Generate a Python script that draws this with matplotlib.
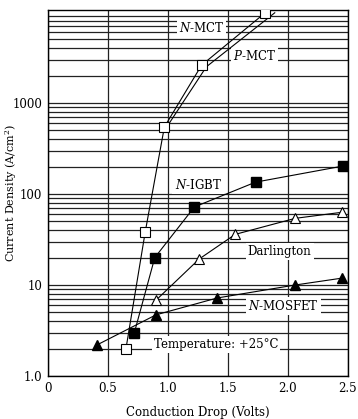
import matplotlib
matplotlib.use("Agg")
from matplotlib import pyplot as plt
from matplotlib.ticker import NullFormatter

# data (volts, A/cm^2)
nmct_x = [0.65, 0.81, 0.97, 1.28, 1.81]
nmct_y = [2.0, 38, 545, 2600, 9800]
pmct_x = [0.99, 1.32, 1.89]
pmct_y = [545, 2500, 9800]
nigbt_x = [0.72, 0.89, 1.22, 1.73, 2.46]
nigbt_y = [3.0, 20, 72, 135, 203]
darl_x = [0.90, 1.26, 1.56, 2.06, 2.45]
darl_y = [6.8, 19.3, 36, 54, 63]
nmos_x = [0.41, 0.90, 1.41, 2.06, 2.45]
nmos_y = [2.2, 4.7, 7.2, 10, 11.9]

xticks = [0, 0.5, 1.0, 1.5, 2.0, 2.5]
xtick_labels = ['0', '0.5', '1.0', '1.5', '2.0', '2.5']
yticks = [1, 10, 100, 1000]
ytick_labels = ['1.0', '10', '100', '1000']

plt.rcParams['font.family'] = ['DejaVu Serif']
plt.rcParams['mathtext.fontset'] = 'dejavuserif'
plt.rcParams['font.size'] = 8.5

fig = plt.figure(figsize=(3.58, 4.19), dpi=100)
ax = fig.add_axes([0.134, 0.1026, 0.838, 0.8734])
ax.set_yscale('log')
ax.set_xlim(0, 2.5)
ax.set_ylim(1, 10500)

#Grid first, so the label boxes can blank it out
ax.grid(True, which='both', axis='y', color='#222222', lw=0.9, zorder=0)
ax.grid(True, which='major', axis='x', color='#222222', lw=0.9, zorder=0)
ax.set_axisbelow(True)

ax.set_xticks(xticks)
ax.set_xticklabels(xtick_labels)
ax.set_yticks(yticks)
ax.set_yticklabels(ytick_labels)
ax.yaxis.set_minor_formatter(NullFormatter())
ax.tick_params(which='both', length=0, pad=4)
for s in ax.spines.values():
    s.set_linewidth(1.0)

lw = 0.8
ax.plot(nmct_x, nmct_y, '-', color='black', lw=lw, marker='s', ms=7.5,
        mfc='white', mec='black', mew=0.8, zorder=5)
ax.plot(pmct_x, pmct_y, '-', color='black', lw=lw, zorder=4)
ax.plot(nigbt_x, nigbt_y, '-', color='black', lw=lw, marker='s', ms=7.5,
        mfc='black', mec='black', zorder=5)
ax.plot(darl_x, darl_y, '-', color='black', lw=lw, marker='^', ms=7.5,
        mfc='white', mec='black', mew=0.8, zorder=5)
ax.plot(nmos_x, nmos_y, '-', color='black', lw=lw, marker='^', ms=6.5,
        mfc='black', mec='black', zorder=5)

box = dict(facecolor='white', edgecolor='none', pad=1.5)
ax.text(1.28, 6600, r'$\it{N}$-MCT', ha='center', va='center', bbox=box, zorder=3)
ax.text(1.72, 3300, r'$\it{P}$-MCT', ha='center', va='center', bbox=box, zorder=3)
ax.text(1.25, 126, r'$\it{N}$-IGBT', ha='center', va='center', bbox=box, zorder=3)
ax.text(1.93, 23.5, 'Darlington', ha='center', va='center', bbox=box, zorder=3)
ax.text(1.96, 5.9, r'$\it{N}$-MOSFET', ha='center', va='center', bbox=box, zorder=3)
ax.text(1.4, 2.22, 'Temperature: +25°C', ha='center', va='center', bbox=box, zorder=3)

ax.set_xlabel('Conduction Drop (Volts)', labelpad=8)
ax.set_ylabel('Current Density (A/cm$^2$)', fontsize=8)
ax.yaxis.set_label_coords(-0.095, 0.5)

fig.savefig('out.png', dpi=100)
